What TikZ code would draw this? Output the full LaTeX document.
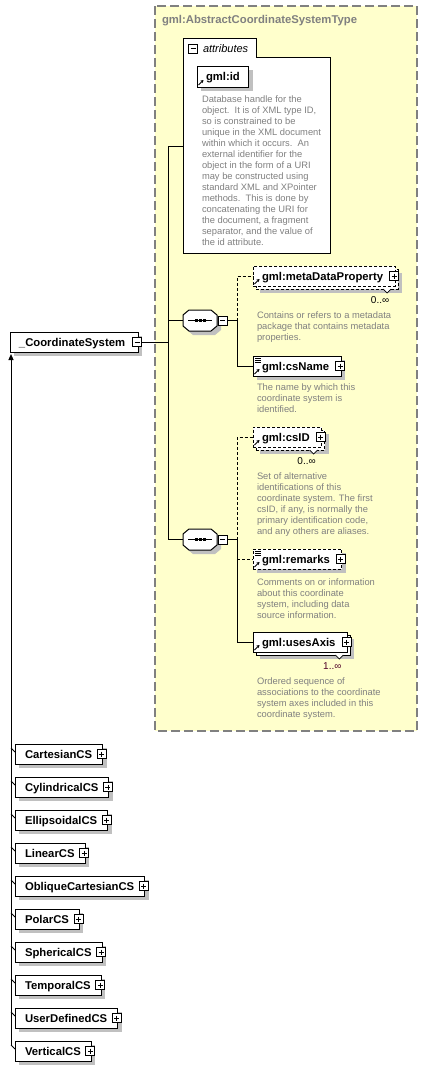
\documentclass[tikz,border=0pt]{standalone}
\usepackage{fontspec}
\setmainfont{Liberation Sans}
\usetikzlibrary{calc,shadows,arrows.meta}
\definecolor{bgyellow}{RGB}{255,255,204}
\definecolor{framegray}{RGB}{128,128,128}
\definecolor{shgray}{RGB}{192,192,192}
\definecolor{descgray}{RGB}{128,128,128}
\definecolor{multred}{RGB}{80,0,40}
\newcommand\xrefarrow[1]{\draw[-{Stealth[length=3pt,width=3.5pt]},line width=1pt] ($(#1.south west)+(1.5,-2)$) -- ++(5,-5);}
\newcommand\xlines[1]{\foreach \kk in {2,4,6}{\draw[line width=0.8pt] ($(#1.north west)+(2,\kk)$) -- ++(6,0);}}
\newcommand\xnotch[1]{\draw[line width=0.7pt, fill=white] ($(#1.south east)+(-12,3)$) -- ++(4,4) -- ++(4,-4);}
\newcommand\xseq[1]{%
  \fill[shgray, shift={($(#1.north west)+(4,4)$)}] (6,0) -- (28,0) -- (34,5) -- (34,16) -- (28,21) -- (6,21) -- (0,16) -- (0,5) -- cycle;
  \draw[fill=white, shift={(#1.north west)}] (6,0) -- (28,0) -- (34,5) -- (34,16) -- (28,21) -- (6,21) -- (0,16) -- (0,5) -- cycle;
  \draw[shift={(#1.north west)}] (5,10.5) -- (29,10.5);
  \foreach \dd in {13,17,21}{\fill[shift={(#1.north west)}] (\dd-1.5,9) rectangle (\dd+1.5,12);}
  \node[minusbox, anchor=west] (#1-pm) at ($(#1.east)+(1,0)$) {};
}
\begin{document}
\begin{tikzpicture}[x=1pt, y=-1pt, line width=1pt,
  every node/.style={inner sep=0pt, outer sep=0pt},
  lbl/.style={font=\bfseries\fontsize{11.3}{13}\selectfont},
  elem/.style={draw, fill=white, anchor=north west, minimum height=20pt, text height=9pt, text depth=1pt,
    inner xsep=0pt, lbl, execute at begin node={\hspace*{9pt}}, execute at end node={\hspace*{#1}}},
  elem/.default=12pt,
  subelem/.style={draw, fill=white, anchor=north west, minimum height=20pt, text height=9pt, text depth=1pt,
    inner xsep=0pt, lbl, execute at begin node={\hspace*{10pt}}, execute at end node={\hspace*{10.5pt}}},
  opt/.style={dash pattern=on 3pt off 2pt},
  single/.style={drop shadow={shadow xshift=4pt, shadow yshift=-4pt, fill=shgray, opacity=1}},
  multi/.style={general shadow={shadow xshift=7pt, shadow yshift=-7pt, fill=shgray, opacity=1},
    general shadow={shadow xshift=3pt, shadow yshift=-3pt, fill=white, draw=black, opacity=1, line width=1pt, #1}},
  multi/.default={},
  desc/.style={anchor=north west, align=left, text=descgray, font=\fontsize{9.35}{11}\selectfont},
  mult/.style={anchor=base east, font=\fontsize{10}{12}\selectfont},
  pmbox/.style={draw, fill=white, minimum size=9pt, line width=0.9pt},
  plusbox/.style={pmbox, path picture={
      \draw[line width=0.9pt] ($(path picture bounding box.west)+(2,0)$) -- ($(path picture bounding box.east)+(-2,0)$);
      \draw[line width=0.9pt] ($(path picture bounding box.north)+(0,2)$) -- ($(path picture bounding box.south)+(0,-2)$);}},
  minusbox/.style={pmbox, path picture={
      \draw[line width=0.9pt] ($(path picture bounding box.west)+(2,0)$) -- ($(path picture bounding box.east)+(-2,0)$);}}
]
\useasboundingbox (0,0) rectangle (427,1071);

% container
\draw[framegray, line width=1.3pt, dash pattern=on 9pt off 4pt, fill=bgyellow] (155,6) rectangle (417,731);
\node[anchor=base west, lbl, text=framegray] (title) at (162,23) {gml:AbstractCoordinateSystemType};

% attributes
\node[fill=white, anchor=north west, minimum width=147pt, minimum height=196pt] (attr) at (183,57) {};
\node[fill=white, anchor=north west, minimum width=73pt, minimum height=19pt] (attrtab) at (183,38) {};
\draw (attr.south west) -- (attrtab.north west) -- (attrtab.north east) -- (attrtab.south east) -- (attr.north east) -- (attr.south east) -- cycle;
\node[minusbox] (attr-pm) at (193,48.5) {};
\node[anchor=base west, font=\itshape\fontsize{11}{13}\selectfont] (attr-t) at (203,52) {attributes};
\node[elem=9pt, single, minimum height=21pt] (gid) at (197,66) {gml:id};
\xrefarrow{gid}
\node[desc] (gid-d) at (202,96) {Database handle for the\\object.\ \ It is of XML type ID,\\so is constrained to be\\unique in the XML document\\within which it occurs.\ \ An\\external identifier for the\\object in the form of a URI\\may be constructed using\\standard XML and XPointer\\methods.\ \ This is done by\\concatenating the URI for\\the document, a fragment\\separator, and the value of\\the id attribute.};

% main element
\node[elem=13pt, single] (cs) at (10,332) {\_CoordinateSystem};
\node[minusbox] (cs-pm) at ($(cs.east)+(-1,0)$) {};

% sequences
\node[anchor=north west, minimum width=34pt, minimum height=21pt] (seq1) at (183,310) {};
\xseq{seq1}
\node[anchor=north west, minimum width=34pt, minimum height=21pt] (seq2) at (183,529) {};
\xseq{seq2}

% children of sequence 1
\node[elem, opt, multi=opt] (mdp) at (253,266) {gml:metaDataProperty};
\node[plusbox] (mdp-pm) at ($(mdp.east)+(-1,0)$) {};
\xrefarrow{mdp}
\xnotch{mdp}
\node[mult] (mdp-m) at ($(mdp.south east)+(-6,17)$) {0..∞};
\node[desc] (mdp-d) at (257,312) {Contains or refers to a metadata\\package that contains metadata\\properties.};

\node[elem, single] (csn) at (253,356) {gml:csName};
\node[plusbox] (csn-pm) at ($(csn.east)+(-1,0)$) {};
\xrefarrow{csn}
\xlines{csn}
\node[desc] (csn-d) at (257,384) {The name by which this\\coordinate system is\\identified.};

% children of sequence 2
\node[elem, opt, multi=opt] (csid) at (253,427) {gml:csID};
\node[plusbox] (csid-pm) at ($(csid.east)+(-1,0)$) {};
\xrefarrow{csid}
\xnotch{csid}
\node[mult] (csid-m) at ($(csid.south east)+(-6,17)$) {0..∞};
\node[desc] (csid-d) at (257,473) {Set of alternative\\identifications of this\\coordinate system. The first\\csID, if any, is normally the\\primary identification code,\\and any others are aliases.};

\node[elem, opt, single] (rem) at (253,549) {gml:remarks};
\node[plusbox] (rem-pm) at ($(rem.east)+(-1,0)$) {};
\xrefarrow{rem}
\xlines{rem}
\node[desc] (rem-d) at (257,579) {Comments on or information\\about this coordinate\\system, including data\\source information.};

\node[elem, multi] (ua) at (253,632) {gml:usesAxis};
\node[plusbox] (ua-pm) at ($(ua.east)+(-1,0)$) {};
\xrefarrow{ua}
\xnotch{ua}
\node[mult, text=multred] (ua-m) at ($(ua.south east)+(-6,17)$) {1..∞};
\node[desc] (ua-d) at (257,678) {Ordered sequence of\\associations to the coordinate\\system axes included in this\\coordinate system.};

% connectors
\coordinate (trunk) at (168,146);
\coordinate (br) at (237,0);
\draw (trunk) -- (trunk -| attr.west);
\draw (trunk) -- (seq2.west -| trunk) -- (seq2.west);
\draw (seq1.west -| trunk) -- (seq1.west);
\draw (cs-pm.east) -- (cs-pm.east -| trunk);
\draw (seq1-pm.east) -- (seq1-pm.east -| br);
\draw[opt] (seq1-pm.east -| br) -- (mdp.west -| br) -- (mdp.west);
\draw (seq1-pm.east -| br) -- (csn.west -| br) -- (csn.west);
\draw (seq2-pm.east) -- (seq2-pm.east -| br);
\draw[opt] (seq2-pm.east -| br) -- (csid.west -| br) -- (csid.west);
\draw (seq2-pm.east -| br) -- (ua.west -| br) -- (ua.west);
\draw[opt] (rem.west -| br) -- (rem.west);

% subtypes
\foreach \nm [count=\i from 0] in {CartesianCS, CylindricalCS, EllipsoidalCS, LinearCS, ObliqueCartesianCS, PolarCS, SphericalCS, TemporalCS, UserDefinedCS, VerticalCS}{
  \node[subelem, single] (sub\i) at (15,744+33*\i) {\nm};
  \node[plusbox] (sub\i-pm) at ($(sub\i.east)+(-1,0)$) {};
  \draw ($(sub\i.north west)+(-4,4)$) -- ($(sub\i.north west)+(0,8)$);
}
\coordinate (bus-end) at ($(sub9.north west)+(-4,4)$);
\draw[{Triangle[length=6pt,width=5pt]}-] ($(cs.south west)+(1,2)$) -- (bus-end);
\end{tikzpicture}
\end{document}
